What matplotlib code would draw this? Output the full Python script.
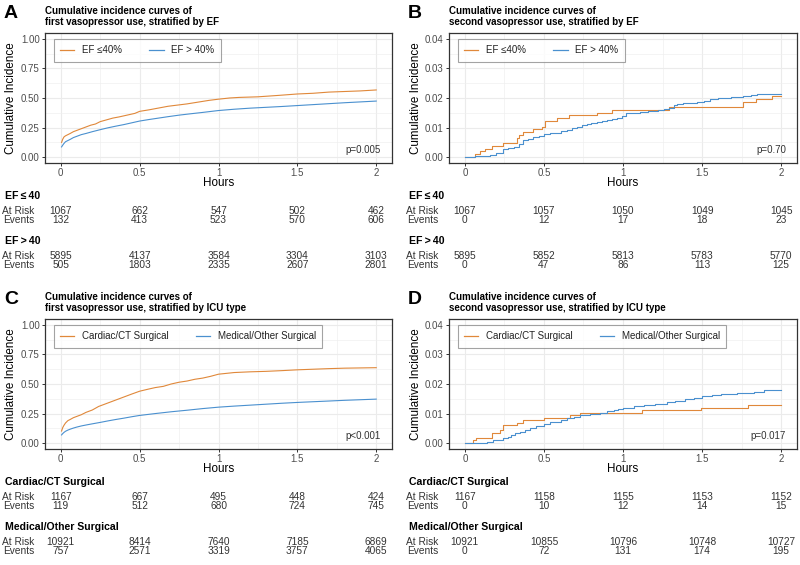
import matplotlib
matplotlib.use('Agg')
import matplotlib.pyplot as plt
from matplotlib.transforms import blended_transform_factory as blend
from matplotlib.lines import Line2D

plt.rcParams['font.family'] = ['Liberation Sans', 'DejaVu Sans']

# ---------------- data ----------------
# Panel A: first vasopressor, by EF
a_t_low = [0.005, 0.012, 0.02, 0.03, 0.045, 0.06, 0.08, 0.1, 0.13, 0.16, 0.19, 0.22, 0.25, 0.29, 0.33,
           0.37, 0.42, 0.47, 0.5, 0.56, 0.62, 0.68, 0.74, 0.8, 0.87, 0.94, 1.0, 1.07, 1.13, 1.25,
           1.38, 1.5, 1.6, 1.7, 1.8, 1.9, 2.0]
a_y_low = [0.124, 0.15, 0.17, 0.18, 0.19, 0.2, 0.215, 0.225, 0.24, 0.255, 0.27, 0.28, 0.30, 0.315, 0.33,
           0.34, 0.355, 0.37, 0.387, 0.40, 0.415, 0.43, 0.44, 0.45, 0.465, 0.48, 0.49, 0.50, 0.505, 0.51,
           0.522, 0.534, 0.54, 0.55, 0.555, 0.56, 0.568]
a_t_high = [0.005, 0.012, 0.02, 0.03, 0.045, 0.06, 0.08, 0.1, 0.13, 0.16, 0.2, 0.25, 0.3, 0.35, 0.4,
            0.45, 0.5, 0.56, 0.62, 0.68, 0.75, 0.82, 0.9, 1.0, 1.1, 1.2, 1.3, 1.4, 1.5, 1.6,
            1.7, 1.8, 1.9, 2.0]
a_y_high = [0.086, 0.1, 0.115, 0.13, 0.14, 0.15, 0.165, 0.175, 0.19, 0.2, 0.215, 0.232, 0.248, 0.262, 0.275,
            0.29, 0.305, 0.318, 0.33, 0.342, 0.355, 0.366, 0.378, 0.394, 0.405, 0.414, 0.421, 0.428, 0.436, 0.444,
            0.452, 0.46, 0.467, 0.474]

# Panel B: second vasopressor, by EF
b_t_low = [0, 0.063, 0.095, 0.127, 0.17, 0.243, 0.332, 0.345, 0.37, 0.434, 0.49, 0.505, 0.58, 0.656, 0.836,
           0.93, 1.29, 1.757, 1.84, 1.94, 2.0]
b_y_low = [0, 0.0009, 0.0019, 0.0028, 0.0038, 0.0047, 0.0066, 0.0075, 0.0085, 0.0094, 0.0103, 0.0122, 0.0131,
           0.0141, 0.015, 0.0159, 0.0169, 0.0187, 0.0197, 0.0206, 0.0206]
b_t_high = [0, 0.063, 0.1, 0.16, 0.2, 0.24, 0.27, 0.31, 0.34, 0.37, 0.4, 0.43, 0.47, 0.5, 0.54,
            0.58, 0.61, 0.645, 0.68, 0.71, 0.74, 0.77, 0.8, 0.836, 0.87, 0.9, 0.93, 0.96, 0.995, 1.02,
            1.06, 1.11, 1.16, 1.22, 1.26, 1.29, 1.32, 1.34, 1.38, 1.43, 1.47, 1.51, 1.55, 1.6, 1.68,
            1.76, 1.81, 1.85, 2.0]
b_y_high = [0, 0.0002, 0.0003, 0.0007, 0.0014, 0.0027, 0.003, 0.0034, 0.0045, 0.0057, 0.0062, 0.0068, 0.0073,
            0.0077, 0.008, 0.0082, 0.0088, 0.0093, 0.0098, 0.0102, 0.0107, 0.0111, 0.0115, 0.0119, 0.0122,
            0.0125, 0.0129, 0.0132, 0.0139, 0.0148, 0.015, 0.0153, 0.0156, 0.0159, 0.0162, 0.0166, 0.0175,
            0.018, 0.0182, 0.0184, 0.0188, 0.0191, 0.0195, 0.0199, 0.0202, 0.0206, 0.0209, 0.0212, 0.0213]

# Panel C: first vasopressor, by ICU type
c_t_car = [0.005, 0.012, 0.02, 0.03, 0.045, 0.06, 0.08, 0.1, 0.13, 0.16, 0.2, 0.24, 0.28, 0.32, 0.36,
           0.4, 0.45, 0.5, 0.55, 0.6, 0.65, 0.7, 0.75, 0.8, 0.85, 0.9, 0.95, 1.0, 1.05, 1.1,
           1.2, 1.3, 1.4, 1.5, 1.6, 1.7, 1.8, 1.9, 2.0]
c_y_car = [0.102, 0.13, 0.15, 0.17, 0.19, 0.2, 0.215, 0.225, 0.24, 0.26, 0.28, 0.31, 0.33, 0.35, 0.37,
           0.39, 0.415, 0.439, 0.455, 0.47, 0.48, 0.5, 0.515, 0.525, 0.54, 0.55, 0.565, 0.583, 0.59, 0.597,
           0.603, 0.607, 0.613, 0.62, 0.625, 0.63, 0.634, 0.636, 0.638]
c_t_med = [0.005, 0.012, 0.02, 0.03, 0.045, 0.06, 0.08, 0.1, 0.13, 0.16, 0.2, 0.25, 0.3, 0.35, 0.4,
           0.45, 0.5, 0.6, 0.7, 0.8, 0.9, 1.0, 1.1, 1.2, 1.3, 1.4, 1.5, 1.6, 1.7, 1.8, 1.9, 2.0]
c_y_med = [0.069, 0.08, 0.09, 0.1, 0.11, 0.118, 0.127, 0.135, 0.145, 0.153, 0.163, 0.175, 0.188, 0.2, 0.211,
           0.223, 0.234, 0.25, 0.265, 0.278, 0.292, 0.304, 0.313, 0.321, 0.329, 0.337, 0.344, 0.35, 0.356,
           0.362, 0.367, 0.372]

# Panel D: second vasopressor, by ICU type
d_t_car = [0, 0.05, 0.07, 0.17, 0.22, 0.24, 0.33, 0.37, 0.5, 0.667, 0.73, 1.12, 1.49, 1.79, 2.0]
d_y_car = [0, 0.0009, 0.0017, 0.0034, 0.0043, 0.006, 0.0069, 0.0077, 0.0086, 0.0094, 0.0103, 0.0111, 0.012,
           0.0129, 0.0129]
d_t_med = [0, 0.05, 0.095, 0.14, 0.18, 0.21, 0.24, 0.27, 0.29, 0.32, 0.35, 0.38, 0.41, 0.45, 0.5,
           0.54, 0.58, 0.61, 0.645, 0.69, 0.73, 0.79, 0.857, 0.9, 0.94, 0.97, 1.0, 1.07, 1.13, 1.2,
           1.28, 1.33, 1.39, 1.45, 1.5, 1.56, 1.62, 1.72, 1.83, 1.89, 2.0]
d_y_med = [0, 0.0001, 0.0002, 0.0005, 0.0009, 0.0012, 0.0016, 0.0022, 0.0028, 0.0033, 0.0039, 0.0045, 0.005,
           0.0058, 0.0066, 0.007, 0.0073, 0.0079, 0.0084, 0.009, 0.0095, 0.0099, 0.0103, 0.0108, 0.0112,
           0.0116, 0.012, 0.0127, 0.013, 0.0133, 0.014, 0.0144, 0.0149, 0.0154, 0.0158, 0.0162, 0.0165,
           0.0169, 0.0174, 0.0178, 0.0179]

# risk tables
table_times = [0, 0.5, 1, 1.5, 2]
a_low_risk = [1067, 662, 547, 502, 462]
a_low_events = [132, 413, 523, 570, 606]
a_high_risk = [5895, 4137, 3584, 3304, 3103]
a_high_events = [505, 1803, 2335, 2607, 2801]
b_low_risk = [1067, 1057, 1050, 1049, 1045]
b_low_events = [0, 12, 17, 18, 23]
b_high_risk = [5895, 5852, 5813, 5783, 5770]
b_high_events = [0, 47, 86, 113, 125]
c_car_risk = [1167, 667, 495, 448, 424]
c_car_events = [119, 512, 680, 724, 745]
c_med_risk = [10921, 8414, 7640, 7185, 6869]
c_med_events = [757, 2571, 3319, 3757, 4065]
d_car_risk = [1167, 1158, 1155, 1153, 1152]
d_car_events = [0, 10, 12, 14, 15]
d_med_risk = [10921, 10855, 10796, 10748, 10727]
d_med_events = [0, 72, 131, 174, 195]

ef_legend = ['EF \u226440%', 'EF > 40%']
ef_groups = ['EF\u2009\u2264\u200940', 'EF\u2009>\u200940']
icu_legend = ['Cardiac/CT Surgical', 'Medical/Other Surgical']
icu_groups = ['Cardiac/CT Surgical', 'Medical/Other Surgical']
p_values = ['p=0.005', 'p=0.70', 'p<0.001', 'p=0.017']
letters = ['A', 'B', 'C', 'D']
titles = ['Cumulative incidence curves of\nfirst vasopressor use, stratified by EF',
          'Cumulative incidence curves of\nsecond vasopressor use, stratified by EF',
          'Cumulative incidence curves of\nfirst vasopressor use, stratified by ICU type',
          'Cumulative incidence curves of\nsecond vasopressor use, stratified by ICU type']
x_ticks = [0, 0.5, 1, 1.5, 2]
x_ticklabels = ['0', '0.5', '1', '1.5', '2']
y_ticks_first = [0, 0.25, 0.5, 0.75, 1.0]
y_ticklabels_first = ['0.00', '0.25', '0.50', '0.75', '1.00']
y_ticks_second = [0, 0.01, 0.02, 0.03, 0.04]
y_ticklabels_second = ['0.00', '0.01', '0.02', '0.03', '0.04']

# ---------------- style / layout ----------------
ORANGE = '#E0883A'
BLUE = '#4A90CF'
W, H = 800, 565
fig = plt.figure(figsize=(W / 100, H / 100), dpi=100)
fig.patch.set_facecolor('white')

COLS = [(45, 392), (449, 797)]
ROWS = [(33, 163), (319, 449)]
ROW_OFF = [0, 286]


def fy(py):
    return 1 - py / H


panels = [
    dict(curves=[(a_t_low, a_y_low), (a_t_high, a_y_high)], legend=ef_legend, groups=ef_groups,
         table=[(a_low_risk, a_low_events), (a_high_risk, a_high_events)],
         yt=y_ticks_first, ytl=y_ticklabels_first, ymax=1.0, step=False),
    dict(curves=[(b_t_low, b_y_low), (b_t_high, b_y_high)], legend=ef_legend, groups=ef_groups,
         table=[(b_low_risk, b_low_events), (b_high_risk, b_high_events)],
         yt=y_ticks_second, ytl=y_ticklabels_second, ymax=0.04, step=True),
    dict(curves=[(c_t_car, c_y_car), (c_t_med, c_y_med)], legend=icu_legend, groups=icu_groups,
         table=[(c_car_risk, c_car_events), (c_med_risk, c_med_events)],
         yt=y_ticks_first, ytl=y_ticklabels_first, ymax=1.0, step=False),
    dict(curves=[(d_t_car, d_y_car), (d_t_med, d_y_med)], legend=icu_legend, groups=icu_groups,
         table=[(d_car_risk, d_car_events), (d_med_risk, d_med_events)],
         yt=y_ticks_second, ytl=y_ticklabels_second, ymax=0.04, step=True),
]

TXT = '#333333'
TFS = 7.3
for i, p in enumerate(panels):
    r, c = divmod(i, 2)
    x0, x1 = COLS[c]
    y0, y1 = ROWS[r]
    off = ROW_OFF[r]
    ax = fig.add_axes([x0 / W, 1 - y1 / H, (x1 - x0) / W, (y1 - y0) / H])
    ymax = p['ymax']
    ax.set_xlim(-0.1, 2.1)
    ax.set_ylim(-0.05 * ymax, 1.05 * ymax)
    ax.set_xticks(x_ticks)
    ax.set_xticklabels(x_ticklabels)
    ax.set_yticks(p['yt'])
    ax.set_yticklabels(p['ytl'])
    ax.set_xticks([0.25, 0.75, 1.25, 1.75], minor=True)
    yt = p['yt']
    ax.set_yticks([(yt[k] + yt[k + 1]) / 2 for k in range(len(yt) - 1)], minor=True)
    ax.grid(which='major', color='#EBEBEB', lw=0.8)
    ax.grid(which='minor', color='#EFEFEF', lw=0.45)
    ax.set_axisbelow(True)
    ax.tick_params(which='minor', length=0)
    ax.tick_params(which='major', length=2.2, width=0.7, color='#333333', labelsize=7,
                   labelcolor='#4D4D4D', pad=1.5)
    for s in ax.spines.values():
        s.set_color('#333333')
        s.set_linewidth(0.9)
    colors = [ORANGE, BLUE]
    for (t, y), col in zip(p['curves'], colors):
        if p['step']:
            ax.step(t, y, where='post', color=col, lw=0.8)
        else:
            ax.plot(t, y, color=col, lw=0.8)
    handles = [Line2D([], [], color=col, lw=0.9) for col in colors]
    leg = ax.legend(handles, p['legend'], loc='upper left', bbox_to_anchor=(0.026, 0.954), ncol=2,
                    fontsize=7, frameon=True, fancybox=False, borderaxespad=0, handlelength=1.45,
                    handletextpad=0.8, columnspacing=2.8, borderpad=0.65)
    leg.get_frame().set_edgecolor('#8C8C8C')
    leg.get_frame().set_linewidth(0.8)
    for tx in leg.get_texts():
        tx.set_color('#222222')
    ax.text(2.03, 0.06 * ymax, p_values[i], ha='right', va='center', fontsize=7, color=TXT)

    # letter and title
    fig.text((4 if c == 0 else 408) / W, fy(14 + off), letters[i], fontsize=14, fontweight='bold',
             ha='left', va='center')
    tl = titles[i].split('\n')
    fig.text(x0 / W, fy(11 + off), tl[0], fontsize=7, fontweight='bold', ha='left', va='center')
    fig.text(x0 / W, fy(22 + off), tl[1], fontsize=7, fontweight='bold', ha='left', va='center')
    # axis titles
    fig.text((11 if c == 0 else 416) / W, fy((y0 + y1) / 2), 'Cumulative Incidence', rotation=90,
             ha='center', va='center', fontsize=8.4)
    fig.text((x0 + x1) / 2 / W, fy(183 + off), 'Hours', ha='center', va='center', fontsize=8.4)

    # risk table
    tr = blend(ax.transData, fig.transFigure)
    tra = blend(ax.transAxes, fig.transFigure)
    width = x1 - x0
    for g, (risk, events) in enumerate(p['table']):
        gy = 196 + off + g * 45
        ax.text(-40 / width, fy(gy), p['groups'][g], transform=tra, ha='left', va='center',
                fontsize=7.6, fontweight='bold', clip_on=False)
        ax.text(-11 / width, fy(gy + 15), 'At Risk', transform=tra, ha='right', va='center',
                fontsize=TFS, color=TXT, clip_on=False)
        ax.text(-11 / width, fy(gy + 24), 'Events', transform=tra, ha='right', va='center',
                fontsize=TFS, color=TXT, clip_on=False)
        for tt, rv, ev in zip(table_times, risk, events):
            ax.text(tt, fy(gy + 15), str(rv), transform=tr, ha='center', va='center',
                    fontsize=TFS, color=TXT, clip_on=False)
            ax.text(tt, fy(gy + 24), str(ev), transform=tr, ha='center', va='center',
                    fontsize=TFS, color=TXT, clip_on=False)

fig.savefig('out.png', dpi=100)
